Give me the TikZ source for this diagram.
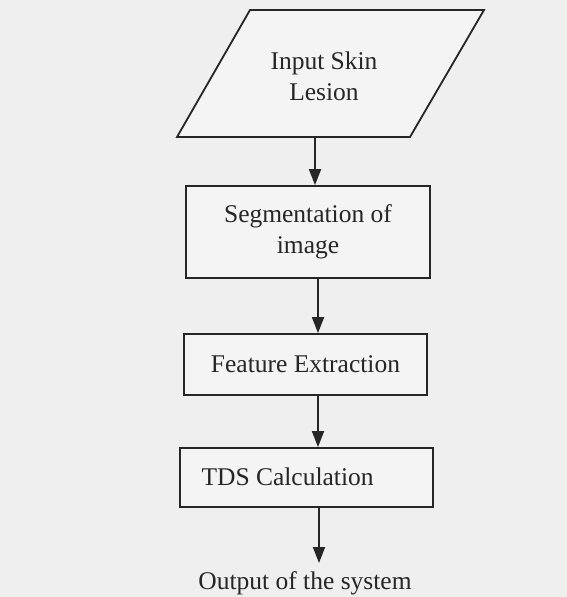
\documentclass[tikz,border=0pt]{standalone}
\usepackage{fontspec}
\setmainfont{Liberation Serif}
\usetikzlibrary{arrows.meta}
\definecolor{ink}{HTML}{262626}
\definecolor{paper}{HTML}{EFEFEF}
\tikzset{
  box/.style={draw=ink, line width=1.8pt, fill=white, fill opacity=0.35, text opacity=1, inner sep=0pt},
  lbl/.style={text=ink, font=\fontsize{25.5}{31}\selectfont, align=center},
  conn/.style={draw=ink, line width=1.8pt, -{Triangle[width=12pt,length=16pt]}}
}
\begin{document}
\begin{tikzpicture}[x=1pt,y=-1pt]
\fill[paper] (0,0) rectangle (567,597);
\useasboundingbox (0,0) rectangle (567,597);
% input parallelogram
\coordinate (p1) at (250,10);
\coordinate (p2) at (484,10);
\coordinate (p3) at (410,137);
\coordinate (p4) at (177,137);
\draw[box] (p1) -- (p2) -- (p3) -- (p4) -- cycle;
\node[lbl] (in) at (324,76) {Input Skin\\Lesion};
\coordinate (inb) at (315,137);
% boxes
\node[box, minimum width=244pt, minimum height=92pt] (seg) at (308,232) {};
\node[lbl] at (seg.center) {Segmentation of\\image};
\node[box, minimum width=243pt, minimum height=61pt] (fe) at (305.5,364.5) {};
\node[lbl] at (fe.center) {Feature Extraction};
\node[box, minimum width=253pt, minimum height=59pt] (tds) at (306.5,477.5) {};
\node[lbl, anchor=west] at (198,477) {TDS Calculation};
\node[lbl] (out) at (305,583) {Output of the system};
\coordinate (outt) at (319,563);
% connectors
\draw[conn] (inb) -- (inb |- seg.north);
\draw[conn] (seg.south -| 318,0) -- (fe.north -| 318,0);
\draw[conn] (fe.south -| 318,0) -- (tds.north -| 318,0);
\draw[conn] (tds.south -| outt) -- (outt);
\end{tikzpicture}
\end{document}
